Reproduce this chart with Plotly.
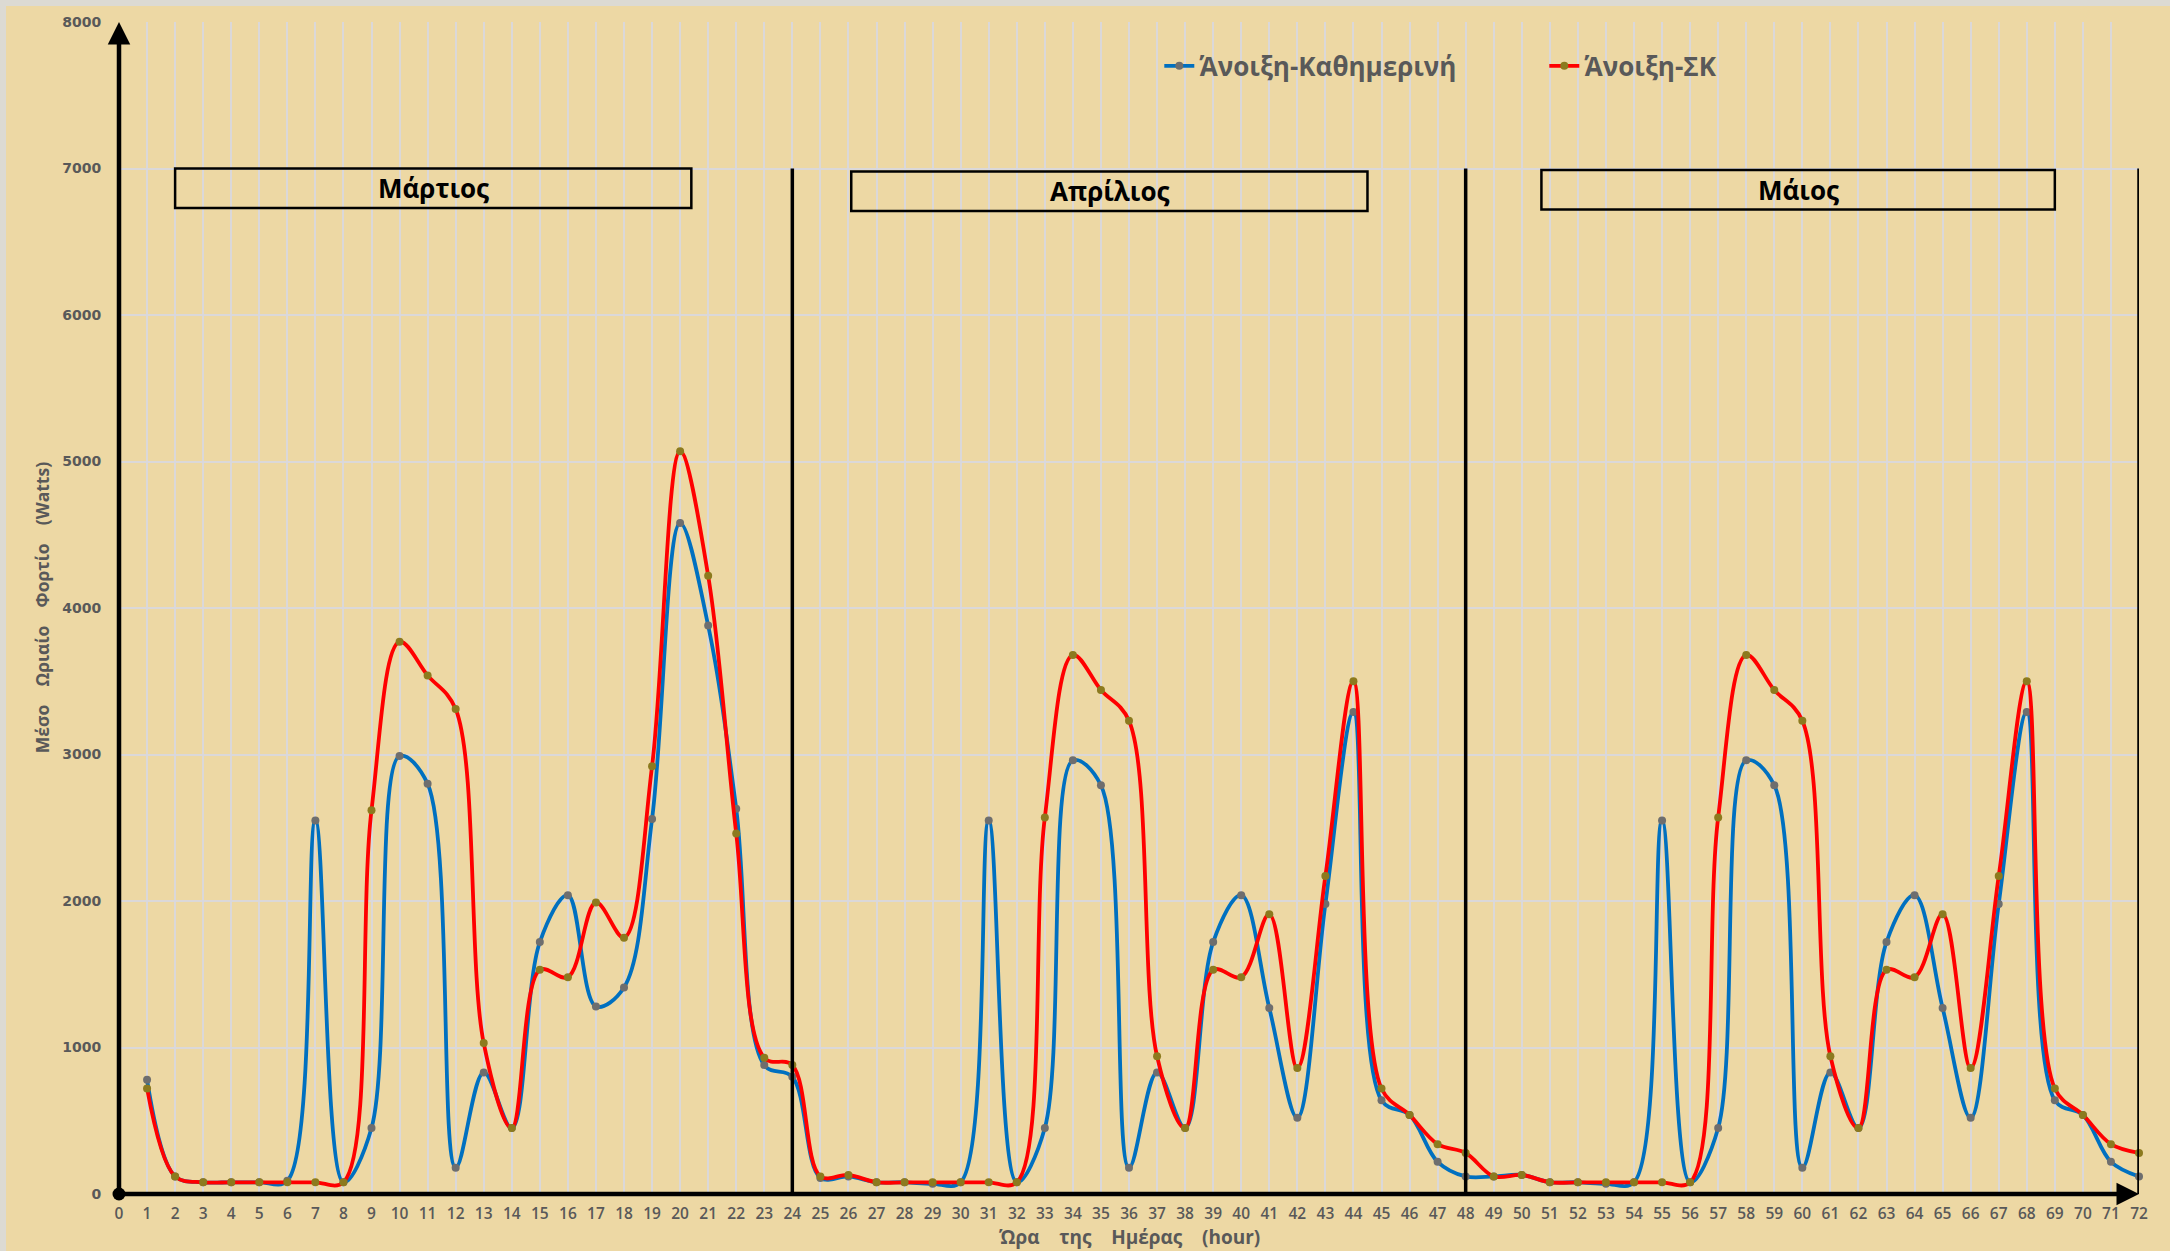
import plotly.graph_objects as go

# ---------------- data ----------------
hours = list(range(1, 73))
weekday = [780, 120, 80, 80, 80, 90, 2550, 80, 450, 2990, 2800, 180, 830, 450, 1720, 2040, 1280, 1410, 2560, 4580, 3880, 2630, 880, 800,
           110, 120, 80, 80, 70, 80, 2550, 80, 450, 2960, 2790, 180, 830, 450, 1720, 2040, 1270, 520, 1980, 3290, 640, 540, 220, 120,
           120, 130, 80, 80, 70, 80, 2550, 80, 450, 2960, 2790, 180, 830, 450, 1720, 2040, 1270, 520, 1980, 3290, 640, 540, 220, 120]
weekend = [720, 120, 80, 80, 80, 80, 80, 80, 2620, 3770, 3540, 3310, 1030, 450, 1530, 1480, 1990, 1750, 2920, 5070, 4220, 2460, 930, 880,
           120, 130, 80, 80, 80, 80, 80, 80, 2570, 3680, 3440, 3230, 940, 450, 1530, 1480, 1910, 860, 2170, 3500, 720, 540, 340, 280,
           120, 130, 80, 80, 80, 80, 80, 80, 2570, 3680, 3440, 3230, 940, 450, 1530, 1480, 1910, 860, 2170, 3500, 720, 540, 340, 280]
series_names = ["Άνοιξη-Καθημερινή", "Άνοιξη-ΣΚ"]
months = ["Μάρτιος", "Απρίλιος", "Μάιος"]
x_ticks = list(range(0, 73))
y_ticks = list(range(0, 8001, 1000))
x_title = "Ώρα    της    Ημέρας    (hour)"
y_title = "Μέσο    Ωριαίο    Φορτίο    (Watts)"

# ---------------- style ----------------
BG = "#EDD8A4"
GRID = "rgba(216,216,222,0.9)"
GRAY = "#595959"

fig = go.Figure()
fig.add_trace(go.Scatter(
    x=hours, y=weekday, name=series_names[0], mode="lines+markers",
    line=dict(color="#0070C0", width=3.8, shape="spline", smoothing=1.0),
    marker=dict(color="#6E6E6E", size=8), cliponaxis=False))
fig.add_trace(go.Scatter(
    x=hours, y=weekend, name=series_names[1], mode="lines+markers",
    line=dict(color="#FF0000", width=3.8, shape="spline", smoothing=1.0),
    marker=dict(color="#8C7A1E", size=8), cliponaxis=False))
# origin dot
fig.add_trace(go.Scatter(x=[0], y=[0], mode="markers", showlegend=False,
                         marker=dict(color="black", size=13), cliponaxis=False, hoverinfo="skip"))

shapes = []
# separators
for xv in [24, 48, 72]:
    shapes.append(dict(type="line", xref="x", yref="y", x0=xv, x1=xv, y0=0, y1=7000,
                       line=dict(color="black", width=3.5)))
# month boxes
boxes = [(2.0, 20.4, 6730, 7000), (26.1, 44.5, 6710, 6980), (50.7, 69.0, 6720, 6990)]
annotations = []
for (x0, x1, y0, y1), m in zip(boxes, months):
    shapes.append(dict(type="rect", xref="x", yref="y", x0=x0, x1=x1, y0=y0, y1=y1,
                       line=dict(color="black", width=2.5), fillcolor="rgba(0,0,0,0)"))
    annotations.append(dict(x=(x0 + x1) / 2, y=(y0 + y1) / 2, xref="x", yref="y", text="<b>%s</b>" % m,
                            showarrow=False, xanchor="center", yanchor="middle",
                            font=dict(family="Open Sans", size=26, color="black")))
# light frame on left and top edges of the picture
shapes.append(dict(type="line", xref="paper", yref="paper", x0=-119 / 2020 + 0.0015, x1=-119 / 2020 + 0.0015,
                   y0=-57 / 1172, y1=1 + 22 / 1172, line=dict(color="#DCDAD3", width=6), layer="below"))
shapes.append(dict(type="line", xref="paper", yref="paper", x0=-119 / 2020, x1=1 + 31 / 2020,
                   y0=1 + 22 / 1172 - 0.0025, y1=1 + 22 / 1172 - 0.0025, line=dict(color="#DCDAD3", width=6), layer="below"))

# axes arrows
annotations.append(dict(x=0, y=8000, ax=0, ay=0, xref="x", yref="y", axref="x", ayref="y", text="",
                        showarrow=True, arrowhead=2, arrowsize=1.0, arrowwidth=4.5, arrowcolor="black"))
annotations.append(dict(x=72, y=0, ax=0, ay=0, xref="x", yref="y", axref="x", ayref="y", text="",
                        showarrow=True, arrowhead=2, arrowsize=1.0, arrowwidth=4.5, arrowcolor="black"))
# axis titles
annotations.append(dict(x=-0.038, y=0.5, xref="paper", yref="paper", xanchor="center", yanchor="middle",
                        text="<b>%s</b>" % y_title.replace(" ", "\u00a0"),
                        textangle=-90, showarrow=False, font=dict(family="Open Sans", size=17.5, color=GRAY)))
annotations.append(dict(x=0.5, y=-0.0365, xref="paper", yref="paper", xanchor="center", yanchor="middle",
                        text="<b>%s</b>" % x_title.replace(" ", "\u00a0"),
                        showarrow=False, font=dict(family="Open Sans", size=19, color=GRAY)))

fig.update_layout(
    width=2170, height=1251,
    margin=dict(l=119, r=31, t=22, b=57),
    paper_bgcolor=BG, plot_bgcolor=BG,
    shapes=shapes, annotations=annotations,
    showlegend=True,
    legend=dict(orientation="h", x=0.515, y=0.9625, xanchor="left", yanchor="middle",
                font=dict(family="Open Sans", size=26, color=GRAY, weight="bold"),
                bgcolor="rgba(0,0,0,0)", entrywidth=340, entrywidthmode="pixels",
                itemwidth=30),
    xaxis=dict(range=[0, 72], tickmode="array", tickvals=x_ticks, ticktext=[str(v) for v in x_ticks],
               showgrid=True, gridcolor=GRID, gridwidth=1.5, zeroline=False, showline=False,
               ticks="outside", ticklen=5, tickcolor="rgba(0,0,0,0)",
               tickfont=dict(family="Open Sans", size=15.5, color=GRAY, weight=600)),
    yaxis=dict(range=[0, 8000], tickmode="array", tickvals=y_ticks, ticktext=[str(v) for v in y_ticks],
               showgrid=True, gridcolor=GRID, gridwidth=1.5, zeroline=False, showline=False,
               ticks="outside", ticklen=14, tickcolor="rgba(0,0,0,0)",
               tickfont=dict(family="DejaVu Sans", size=14, color=GRAY, weight="bold")),
)

fig.write_html("out.html")
